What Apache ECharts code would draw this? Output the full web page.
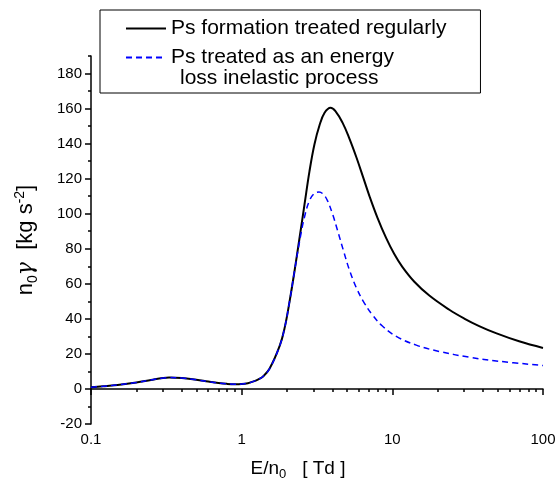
<!DOCTYPE html>
<html>
<head>
<meta charset="utf-8">
<script src="https://cdn.jsdelivr.net/npm/echarts@6/dist/echarts.min.js"></script>
<style>html,body{margin:0;padding:0;background:#fff}#c{width:560px;height:487px}</style>
</head>
<body>
<div id="c"></div>
<script>
var seriesNames = ['Ps formation treated regularly', 'Ps treated as an energy'];
var legendExtraLine = 'loss inelastic process';
var xRegular = [0.1,0.12,0.15,0.2,0.25,0.3,0.33,0.4,0.5,0.6,0.7,0.8,0.9,1.0,1.1,1.2,1.3,1.38,1.53,1.79,1.93,2.08,2.24,2.42,2.61,2.82,3.04,3.29,3.55,3.89,4.19,4.67,5.19,5.78,6.43,7.04,7.96,9.09,10.3,11.65,14,17.6,23.9,30,37.7,49.2,69.4,100];
var yRegular = [1.0,1.5,2.3,3.7,5.1,6.2,6.5,6.2,5.2,4.2,3.4,2.9,2.7,2.8,3.3,4.3,5.6,7.0,11.5,24.7,35,50,67,86,105,124.3,139.5,150.6,157.6,160.5,158.6,152,142.9,132.1,120.3,110.2,97.8,86.2,77,69.7,61.2,53.3,45.2,40.2,35.9,31.7,27.2,23.4];
var xInelastic = [0.1,0.12,0.15,0.2,0.25,0.3,0.33,0.4,0.5,0.6,0.7,0.8,0.9,1.0,1.1,1.2,1.3,1.38,1.53,1.79,1.93,2.08,2.24,2.42,2.61,2.82,3.04,3.26,3.49,3.71,4.0,4.32,4.74,5.19,5.78,6.43,7.37,8.59,10.63,14.42,20.5,32.4,51.1,100];
var yInelastic = [1.0,1.5,2.3,3.7,5.1,6.2,6.5,6.2,5.2,4.2,3.4,2.9,2.7,2.8,3.3,4.3,5.6,7.0,11.5,24.7,35,50,67,84,98,107.5,111.6,112.4,111,107.5,100.1,90.7,78.9,67.9,57.6,49.9,42.3,35.9,30.0,25.0,21.4,18.1,15.8,13.4];
var xMinorTicks = [0.2,0.3,0.4,0.5,0.6,0.7,0.8,0.9,2,3,4,5,6,7,8,9,20,30,40,50,60,70,80,90];
var yMajorTicks = [-20,0,20,40,60,80,100,120,140,160,180];
var yMinorTicks = [-10,10,30,50,70,90,110,130,150,170,190];

function pairs(xs, ys){ return xs.map(function(x,i){ return [x, ys[i]]; }); }

var FONT = 'Liberation Sans, Arial, sans-serif';
var chart = echarts.init(document.getElementById('c'), null, {renderer:'canvas'});
var option = {
  animation: false,
  backgroundColor: '#fff',
  grid: {left: 91, right: 17, top: 56, bottom: 63},
  legend: {
    left: 100, top: 10,
    orient: 'vertical',
    data: seriesNames,
    itemWidth: 40, itemHeight: 10, itemGap: 8, itemTextGap: 10,
    borderColor: '#000', borderWidth: 1, borderRadius: 0,
    padding: [8, 34, 25, 25],
    itemStyle: {opacity: 0},
    textStyle: {fontSize: 21, fontFamily: FONT, color: '#000'}
  },
  graphic: [{
    type: 'text', left: 180, top: 68,
    style: {text: legendExtraLine, fontSize: 21, fontFamily: FONT, fill: '#000'}
  }],
  xAxis: [{
    type: 'log', logBase: 10, min: 0.1, max: 100,
    name: 'E/n{sub|0}   [ Td ]', nameLocation: 'middle', nameGap: 32,
    nameTextStyle: {fontSize: 19, fontFamily: FONT, color: '#000', padding: [0, 38, 0, 0],
      rich: {sub: {fontSize: 13, fontFamily: FONT, color: '#000', padding: [12,0,0,0]}}},
    axisLine: {show: true, lineStyle: {color: '#000', width: 1.5}},
    axisTick: {show: true, inside: false, length: 6, lineStyle: {color: '#000', width: 1.5}},
    minorTick: {show: false},
    axisLabel: {fontSize: 15, fontFamily: FONT, color: '#000', margin: 8,
      formatter: function(v){ return String(v); }},
    splitLine: {show: false}
  }, {
    type: 'log', logBase: 10, min: 0.1, max: 100, position: 'bottom',
    axisLine: {show: false},
    axisTick: {show: true, inside: false, length: 3, customValues: xMinorTicks, lineStyle: {color: '#000', width: 1.5}},
    axisLabel: {show: false},
    splitLine: {show: false}
  }],
  yAxis: [{
    type: 'value', min: -20, max: 190, interval: 20,
    name: 'n{sub|0}{g|γ}  [kg s{sup|-2}]', nameLocation: 'middle', nameGap: 51, nameRotate: 90,
    nameTextStyle: {fontSize: 22, fontFamily: FONT, color: '#000',
      rich: {
        sub: {fontSize: 14, fontFamily: FONT, color: '#000', padding: [14,0,0,0]},
        sup: {fontSize: 14, fontFamily: FONT, color: '#000', padding: [0,0,12,0]},
        g: {fontSize: 22, fontFamily: 'DejaVu Serif', fontStyle: 'italic', color: '#000'}
      }},
    axisLine: {show: true, lineStyle: {color: '#000', width: 1.5}},
    axisTick: {show: true, inside: false, length: 6, customValues: yMajorTicks, lineStyle: {color: '#000', width: 1.5}},
    axisLabel: {fontSize: 15, fontFamily: FONT, color: '#000', margin: 9, customValues: yMajorTicks},
    splitLine: {show: false}
  }, {
    type: 'value', min: -20, max: 190, position: 'left',
    axisLine: {show: false},
    axisTick: {show: true, inside: false, length: 3, customValues: yMinorTicks, lineStyle: {color: '#000', width: 1.5}},
    axisLabel: {show: false},
    splitLine: {show: false}
  }],
  series: [{
    name: seriesNames[0], type: 'line', xAxisIndex: 0, yAxisIndex: 0,
    data: pairs(xRegular, yRegular), showSymbol: false, symbol: 'none',
    smooth: 0.4, lineStyle: {color: '#000', width: 2}, itemStyle: {color: '#000'}, z: 3
  }, {
    name: seriesNames[1], type: 'line', xAxisIndex: 0, yAxisIndex: 0,
    data: pairs(xInelastic, yInelastic), showSymbol: false, symbol: 'none',
    smooth: 0.4, lineStyle: {color: '#0000ff', width: 1.5, type: [6, 4]}, itemStyle: {color: '#0000ff'}, z: 4
  }]
};
chart.setOption(option);
</script>
</body>
</html>
